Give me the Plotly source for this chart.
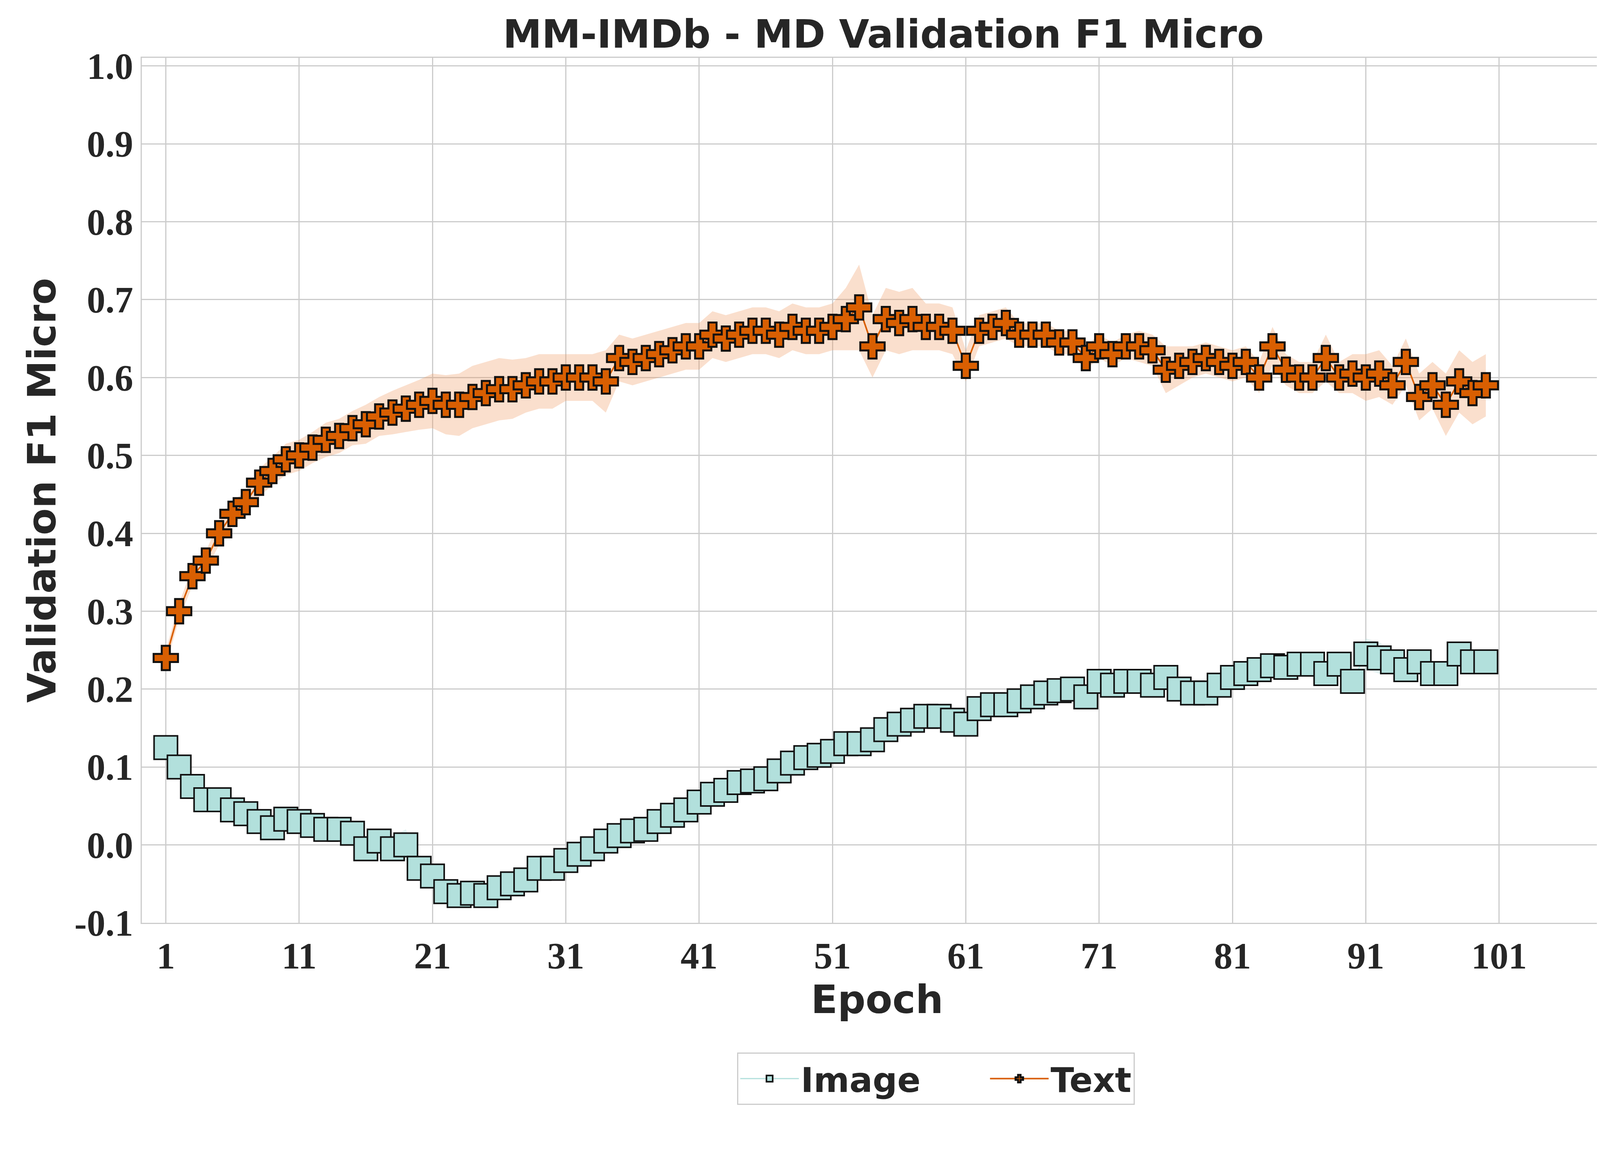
import plotly.graph_objects as go

epochs = list(range(1, 101))

text_f1 = [0.24, 0.30, 0.345, 0.365, 0.40, 0.425, 0.44, 0.465, 0.48, 0.495,
           0.50, 0.51, 0.52, 0.525, 0.535, 0.54, 0.55, 0.555, 0.56, 0.565,
           0.57, 0.565, 0.565, 0.575, 0.58, 0.585, 0.585, 0.59, 0.595, 0.595,
           0.60, 0.60, 0.60, 0.595, 0.625, 0.62, 0.625, 0.63, 0.635, 0.64,
           0.64, 0.655, 0.65, 0.655, 0.66, 0.66, 0.655, 0.665, 0.66, 0.66,
           0.665, 0.675, 0.69, 0.64, 0.675, 0.67, 0.675, 0.665, 0.665, 0.66,
           0.615, 0.66, 0.665, 0.67, 0.655, 0.655, 0.655, 0.645, 0.645, 0.625,
           0.64, 0.63, 0.64, 0.64, 0.635, 0.61, 0.615, 0.62, 0.625, 0.62,
           0.615, 0.62, 0.60, 0.64, 0.61, 0.60, 0.60, 0.625, 0.60, 0.605,
           0.60, 0.605, 0.59, 0.62, 0.575, 0.59, 0.565, 0.595, 0.58, 0.59]
text_std = [0.01, 0.01, 0.012, 0.012, 0.015, 0.015, 0.015, 0.018, 0.018, 0.02,
            0.02, 0.02, 0.022, 0.022, 0.022, 0.025, 0.025, 0.028, 0.03, 0.032,
            0.035, 0.038, 0.04, 0.04, 0.04, 0.04, 0.038, 0.035, 0.035, 0.035,
            0.03, 0.03, 0.03, 0.04, 0.03, 0.03, 0.03, 0.03, 0.03, 0.03,
            0.03, 0.03, 0.03, 0.03, 0.03, 0.03, 0.03, 0.03, 0.03, 0.03,
            0.03, 0.04, 0.055, 0.04, 0.04, 0.04, 0.04, 0.03, 0.03, 0.03,
            0.02, 0.02, 0.02, 0.02, 0.015, 0.015, 0.015, 0.015, 0.015, 0.015,
            0.015, 0.015, 0.015, 0.02, 0.02, 0.03, 0.025, 0.02, 0.02, 0.02,
            0.02, 0.02, 0.02, 0.025, 0.02, 0.02, 0.02, 0.03, 0.02, 0.025,
            0.03, 0.03, 0.025, 0.03, 0.03, 0.03, 0.04, 0.04, 0.04, 0.04]

image_f1 = [0.125, 0.10, 0.075, 0.058, 0.058, 0.045, 0.04, 0.03, 0.022, 0.033,
            0.03, 0.025, 0.02, 0.02, 0.015, -0.005, 0.005, -0.005, 0.0, -0.03,
            -0.04, -0.06, -0.065, -0.062, -0.065, -0.055, -0.05, -0.045, -0.03, -0.03,
            -0.02, -0.012, -0.005, 0.005, 0.012, 0.018, 0.02, 0.03, 0.038, 0.045,
            0.055, 0.065, 0.07, 0.08, 0.082, 0.085, 0.095, 0.105, 0.112, 0.115,
            0.12, 0.13, 0.13, 0.135, 0.148, 0.155, 0.16, 0.165, 0.165, 0.16,
            0.155, 0.175, 0.18, 0.18, 0.185, 0.19, 0.195, 0.198, 0.2, 0.19,
            0.21, 0.205, 0.21, 0.21, 0.205, 0.215, 0.2, 0.195, 0.195, 0.205,
            0.215, 0.22, 0.225, 0.23, 0.228, 0.232, 0.232, 0.22, 0.232, 0.21,
            0.245, 0.24, 0.235, 0.225, 0.235, 0.22, 0.22, 0.245, 0.235, 0.235]
image_std = [0.005] * 15 + [0.01, 0.01, 0.015, 0.02, 0.015, 0.01, 0.01, 0.012, 0.015, 0.01] + \
            [0.008] * 60 + [0.01, 0.01, 0.012, 0.012, 0.015, 0.02, 0.02, 0.015, 0.015, 0.012,
                            0.01, 0.01, 0.01, 0.01, 0.01]

orange = '#d95f02'
teal = '#b2e0dc'

fig = go.Figure()

def band(y, s, color):
    upper = [a + b for a, b in zip(y, s)]
    lower = [a - b for a, b in zip(y, s)]
    fig.add_trace(go.Scatter(x=epochs + epochs[::-1], y=upper + lower[::-1], fill='toself',
                             fillcolor=color, line=dict(width=0), hoverinfo='skip', showlegend=False))

band(image_f1, image_std, 'rgba(178,224,220,0.35)')
band(text_f1, text_std, 'rgba(240,150,90,0.3)')

fig.add_trace(go.Scatter(x=epochs, y=image_f1, name='<b>Image</b>      ', mode='lines+markers',
                         line=dict(color=teal, width=3),
                         marker=dict(symbol='square', size=60, color=teal, line=dict(color='#111111', width=4))))
fig.add_trace(go.Scatter(x=epochs, y=text_f1, name='<b>Text</b>', mode='lines+markers',
                         line=dict(color=orange, width=4),
                         marker=dict(symbol='cross', size=52, color=orange, line=dict(color='#111111', width=5))))

fig.update_layout(
    width=4173, height=2964,
    paper_bgcolor='white', plot_bgcolor='white',
    margin=dict(l=355, r=53, t=140, b=610),
    title=dict(text='<b>MM-IMDb - MD Validation F1 Micro</b>', x=0.54, y=0.985, xanchor='center',
               font=dict(family='DejaVu Sans', size=100, color='#262626')),
    legend=dict(orientation='h', x=0.54, y=-0.15, xanchor='center', yanchor='top',
                font=dict(family='DejaVu Sans', size=88, color='#262626'),
                bordercolor='#cccccc', borderwidth=3, itemwidth=150),
    font=dict(family='Liberation Serif', color='#262626'),
)
fig.update_xaxes(range=[-0.8, 109.5], tickvals=list(range(1, 102, 10)),
                 ticktext=[f'<b>{v}</b>' for v in range(1, 102, 10)],
                 tickfont=dict(size=95), showgrid=True, gridcolor='#cccccc', gridwidth=3,
                 zeroline=False, showline=True, linecolor='#cccccc', linewidth=3, mirror=True,
                 title=dict(text='<b>Epoch</b>', font=dict(family='DejaVu Sans', size=100), standoff=10))
yt = [round(-0.1 + 0.1 * i, 1) for i in range(12)]
fig.update_yaxes(range=[-0.1, 1.0104], tickvals=yt, ticktext=[f'<b>{v:.1f}</b>' for v in yt],
                 tickfont=dict(size=95), showgrid=True, gridcolor='#cccccc', gridwidth=3,
                 zeroline=False, showline=True, linecolor='#cccccc', linewidth=3, mirror=True,
                 title=dict(text='<b>Validation F1 Micro</b>', font=dict(family='DejaVu Sans', size=100), standoff=15))

fig.write_html("out.html")
